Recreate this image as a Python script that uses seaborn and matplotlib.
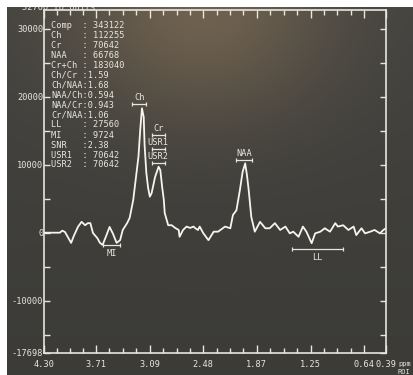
import numpy as np
import pandas as pd
import matplotlib
matplotlib.use('Agg')
import matplotlib.pyplot as plt
from matplotlib.patches import Rectangle
from matplotlib.ticker import FixedLocator
import seaborn as sns

# spectrum
ppm = [4.30, 4.12, 4.09, 4.06, 3.99, 3.96, 3.91, 3.87, 3.83, 3.80, 3.77, 3.74,
       3.69, 3.66, 3.63, 3.59, 3.55, 3.51, 3.47, 3.43, 3.40, 3.35, 3.32, 3.28,
       3.25, 3.22, 3.20, 3.18, 3.16, 3.15, 3.13, 3.11, 3.09, 3.07, 3.03, 2.99,
       2.97, 2.95, 2.93, 2.92, 2.88, 2.84, 2.80, 2.76, 2.75, 2.71, 2.67, 2.63,
       2.59, 2.57, 2.54, 2.52, 2.48, 2.42, 2.36, 2.31, 2.23, 2.17, 2.14, 2.10,
       2.06, 2.03, 2.00, 1.98, 1.96, 1.93, 1.89, 1.83, 1.77, 1.72, 1.66, 1.60,
       1.54, 1.49, 1.45, 1.39, 1.34, 1.30, 1.24, 1.20, 1.14, 1.09, 1.03, 0.97,
       0.94, 0.88, 0.82, 0.76, 0.73, 0.67, 0.63, 0.57, 0.52, 0.46, 0.42, 0.39]
amp = [0, 0, 300, 100, -1500, -500, 900, 1600, 1100, 1400, 1400, -50,
       -800, -1500, -1800, -500, 850, -200, -1500, -1100, 400, 1400, 2200, 4800,
       8000, 11200, 15100, 18300, 17000, 12900, 8800, 6600, 5300, 5800, 8200, 9700,
       9200, 6800, 4800, 2900, 1100, 1100, 700, 400, -600, 400, 900, 700,
       900, 650, 400, 900, -50, -1100, 150, 150, 900, 650, 2600, 3300,
       6300, 8900, 10200, 8500, 6300, 2300, 150, 1600, 650, 650, 1400, 400,
       900, -100, 150, -600, 900, 150, -1550, -100, 150, 650, 150, 1400,
       900, 1100, 400, 900, -350, 650, -100, 150, 400, -100, 400, 650]

# peak / region markers (ppm range and level)
mark_names = ['Ch', 'Cr', 'USR1', 'USR2', 'NAA', 'MI', 'LL']
mark_lo = [3.29, 3.07, 3.07, 3.07, 2.11, 3.62, 1.47]
mark_hi = [3.13, 2.92, 2.92, 2.92, 1.92, 3.43, 0.88]
mark_level = [18900, 14300, 12300, 10200, 10700, -1800, -2400]
mark_below = [False, False, False, False, False, True, True]

# results table
stat_names = ['Comp', 'Ch', 'Cr', 'NAA', 'Cr+Ch', 'Ch/Cr', 'Ch/NAA', 'NAA/Ch',
              'NAA/Cr', 'Cr/NAA', 'LL', 'MI', 'SNR', 'USR1', 'USR2']
stat_values = ['343122', '112255', '70642', '66768', '183040', '1.59', '1.68',
               '0.594', '0.943', '1.06', '27560', '9724', '2.38', '70642', '70642']

x_ticks = [4.30, 3.71, 3.09, 2.48, 1.87, 1.25, 0.64, 0.39]
y_ticks = [30000, 20000, 10000, 0, -10000, -17698]
y_min, y_max = -17698, 32760

sns.set_style('ticks')
plt.rcParams['font.family'] = ['DejaVu Sans Mono']

W, H = 413, 375
fg = '#e6e6de'
line_col = '#f5f5ee'

fig = plt.figure(figsize=(W / 100, H / 100), dpi=100, facecolor='white')

# dark screen with a warm glare near the top
bg = fig.add_axes([7 / W, 0, (W - 7) / W, (H - 7) / H])
gy, gx = np.mgrid[0:200, 0:220]
glow = np.exp(-(((gx - 105) / 70.0) ** 2 + ((gy - 0) / 60.0) ** 2))
base = np.array([0.235, 0.232, 0.220])
warm = np.array([0.17, 0.12, 0.06])
img = base[None, None, :] + glow[..., None] * warm[None, None, :]
img += (1 - gy[..., None] / 200.0) * 0.03
bg.imshow(np.clip(img, 0, 1), aspect='auto', extent=[0, 1, 0, 1])
bg.axis('off')

ax = fig.add_axes([44 / W, 1 - 353 / H, 342 / W, 343 / H])
ax.set_facecolor('none')

df = pd.DataFrame({'ppm': ppm, 'amp': amp})
sns.lineplot(data=df, x='ppm', y='amp', ax=ax, color=line_col, lw=1.3,
             estimator=None, sort=False)

ax.set_xlim(4.30, 0.39)
ax.set_ylim(y_min, y_max)
ax.set_xlabel('')
ax.set_ylabel('')

ax.xaxis.set_major_locator(FixedLocator(x_ticks))
minor_x = []
for a, b in zip(x_ticks[:-2], x_ticks[1:-1]):
    minor_x += list(np.linspace(a, b, 5)[1:-1])
ax.xaxis.set_minor_locator(FixedLocator(minor_x))
ax.set_xticklabels([f'{t:.2f}' for t in x_ticks])

ax.yaxis.set_major_locator(FixedLocator(y_ticks))
ax.yaxis.set_minor_locator(FixedLocator([25000, 15000, 5000, -5000, -15000]))
ax.set_yticklabels([str(t) for t in y_ticks])

ax.tick_params(which='both', direction='in', top=True, right=True,
               color=fg, labelcolor=fg, labelsize=6.2, width=1)
ax.tick_params(axis='x', which='major', length=6, pad=5)
ax.tick_params(axis='x', which='minor', length=3.5)
ax.tick_params(axis='y', which='both', length=4, pad=0.5)
for s in ax.spines.values():
    s.set_color(fg)
    s.set_linewidth(1.2)

# markers
for name, lo, hi, lvl, below in zip(mark_names, mark_lo, mark_hi, mark_level, mark_below):
    ax.plot([lo, hi], [lvl, lvl], color=fg, lw=0.9)
    ax.plot([lo, hi], [lvl, lvl], ls='none', marker='|', ms=3.5, mew=0.9, color=fg)
    off = -3 if below else 1.5
    ax.annotate(name, ((lo + hi) / 2, lvl), xytext=(0, off), textcoords='offset points',
                ha='center', va='top' if below else 'bottom', color=fg, fontsize=6.2)

# results table on the left
for i, (n, v) in enumerate(zip(stat_names, stat_values)):
    sep = ': ' if '.' not in v else ':'
    fig.text(51 / W, 1 - (25 + 10 * i) / H, f'{n:<6}{sep}{v}', color=fg,
             fontsize=6.2, va='center', ha='left')

fig.text(22 / W, 1 - 7 / H, '32760 IU Units', color=fg, fontsize=6.2,
         va='center', ha='left', zorder=1)
fig.text(398 / W, 1 - 364 / H, 'ppm', color=fg, fontsize=5, va='center', ha='left')
fig.text(398 / W, 1 - 372.5 / H, 'ROI', color=fg, fontsize=5, va='center', ha='left')

# white paper margin above and to the left of the screen
fig.patches.append(Rectangle((0, 1 - 7 / H), 1, 7 / H, transform=fig.transFigure,
                             facecolor='white', edgecolor='none', zorder=5))
fig.patches.append(Rectangle((0, 0), 7 / W, 1, transform=fig.transFigure,
                             facecolor='white', edgecolor='none', zorder=5))

fig.savefig('out.png', dpi=100, facecolor='white')
